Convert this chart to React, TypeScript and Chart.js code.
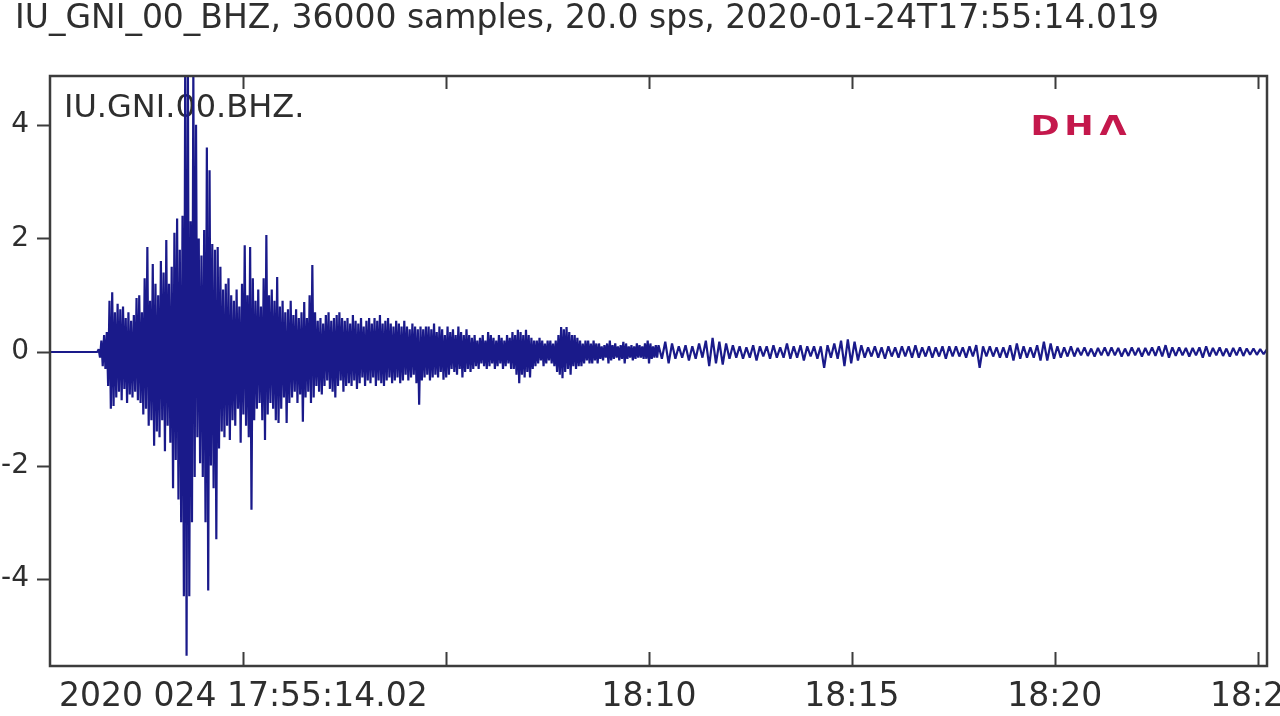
import React, { useEffect, useRef } from "react";
import { Chart, registerables } from "chart.js";

Chart.register(...registerables);

// ---------- data ----------
const TITLE = "IU_GNI_00_BHZ, 36000 samples, 20.0 sps, 2020-01-24T17:55:14.019";
const TRACE_LABEL = "IU.GNI.00.BHZ.";
const LOGO_LETTERS = ["D", "H", "Λ"];

const DURATION_S = 1800; // 36000 samples at 20 sps
const X_TICK_SECONDS = [285.98, 585.98, 885.98, 1185.98, 1485.98, 1785.98];
const X_TICK_LABELS = ["2020 024 17:55:14.02", "", "18:10", "18:15", "18:20", "18:25"];
const Y_TICKS = [-4, -2, 0, 2, 4];
const Y_MIN = -5.53;
const Y_MAX = 4.86;

// quiet part before the first arrival
const PRE_EVENT_TIMES = [0, 68];
const PRE_EVENT_VALUES = [0, 0];

// strong-motion part, read every 2 s from 70 s to 898 s
const MAIN_START_S = 70;
const MAIN_STEP_S = 2;
const MAIN_VALUES = [
  0, 0.05, -0.1, 0.2, -0.25, 0.3, -0.3, 0.35, -0.6, 0.9,
  -1.0, 1.05, -0.95, 0.7, -0.8, 0.85, -0.7, 0.75, -0.85, 0.8,
  -0.65, 0.6, -0.9, 0.7, -0.75, 0.55, -0.8, 0.65, -0.7, 0.95,
  -0.85, 1.0, -0.9, 0.7, -1.1, 1.3, -1.0, 1.85, -1.3, 0.9,
  -1.2, 1.55, -1.65, 1.2, -1.4, 1.0, -1.5, 1.6, -1.2, 1.4,
  -1.75, 1.97, -1.3, 1.2, -1.6, 1.5, -2.4, 2.1, -1.9, 2.35,
  -2.6, 1.8, -3.0, 2.4, -4.3, 5.3, -5.35, 4.9, -4.3, 2.3,
  -3.0, 5.0, -2.2, 4.0, -1.5, 2.0, -1.96, 1.7, -2.2, 2.15,
  -3.0, 3.6, -4.2, 3.2, -2.0, 1.9, -2.4, 1.8, -3.3, 1.85,
  -1.7, 1.5, -1.4, 1.1, -1.5, 1.2, -1.3, 1.3, -1.55, 1.0,
  -1.2, 0.9, -1.3, 1.1, -1.0, 0.8, -1.6, 1.2, -1.1, 1.88,
  -1.3, 1.0, -1.5, 1.85, -2.78, 1.3, -1.2, 0.9, -1.0, 1.1,
  -0.9, 0.8, -1.2, 1.3, -1.55, 2.06, -1.1, 1.0, -0.9, 1.1,
  -1.0, 0.9, -1.2, 1.32, -1.25, 0.8, -1.0, 0.9, -0.8, 0.7,
  -1.25, 0.75, -0.9, 0.9, -0.8, 0.65, -0.7, 0.75, -0.9, 0.6,
  -0.75, 0.7, -1.23, 0.88, -0.8, 0.6, -0.7, 1.0, -0.9, 1.53,
  -0.8, 0.7, -0.6, 0.55, -0.7, 0.6, -0.75, 0.5, -0.6, 0.65,
  -0.5, 0.7, -0.65, 0.55, -0.7, 0.6, -0.8, 0.65, -0.6, 0.7,
  -0.5, 0.6, -0.7, 0.55, -0.6, 0.6, -0.55, 0.5, -0.6, 0.65,
  -0.5, 0.55, -0.65, 0.5, -0.55, 0.6, -0.45, 0.45, -0.6, 0.55,
  -0.5, 0.6, -0.55, 0.5, -0.45, 0.6, -0.6, 0.55, -0.5, 0.65,
  -0.55, 0.5, -0.6, 0.55, -0.5, 0.6, -0.45, 0.5, -0.55, 0.45,
  -0.5, 0.55, -0.45, 0.5, -0.55, 0.45, -0.5, 0.55, -0.4, 0.45,
  -0.5, 0.4, -0.45, 0.5, -0.4, 0.45, -0.55, 0.4, -0.93, 0.45,
  -0.5, 0.4, -0.45, 0.45, -0.4,
  0.45, -0.5, 0.4, -0.45, 0.5, -0.4, 0.35, -0.45, 0.45, -0.35,
  0.4, -0.49, 0.3, -0.45, 0.45, -0.4, 0.35, -0.3, 0.4, -0.35,
  0.3, -0.4, 0.45, -0.3, 0.35, -0.45, 0.3, -0.35, 0.4, -0.3,
  0.3, -0.35, 0.25, -0.3, 0.3, -0.25, 0.2, -0.3, 0.25, -0.2,
  0.3, -0.25, 0.2, -0.3, 0.35, -0.25, 0.3, -0.2, 0.25, -0.3,
  0.2, -0.25, 0.3, -0.2, 0.25, -0.3, 0.2, -0.25, 0.3, -0.2,
  0.25, -0.3, 0.35, -0.3, 0.3, -0.4, 0.39, -0.55, 0.35, -0.4,
  0.3, -0.45, 0.39, -0.35, 0.3, -0.45, 0.25, -0.3, 0.2, -0.25,
  0.2, -0.2, 0.25, -0.15, 0.2, -0.25, 0.15, -0.2, 0.2, -0.15,
  0.2, -0.2, 0.15, -0.25, 0.2, -0.35, 0.3, -0.4, 0.44, -0.46,
  0.4, -0.35, 0.44, -0.3, 0.35, -0.4, 0.3, -0.25, 0.3, -0.3,
  0.25, -0.25, 0.2, -0.25, 0.15, -0.2, 0.2, -0.15, 0.2, -0.2,
  0.15, -0.2, 0.2, -0.15, 0.15, -0.2, 0.15, -0.12, 0.1, -0.15,
  0.12, -0.1, 0.15, -0.2, 0.2, -0.15, 0.12, -0.12, 0.15, -0.1,
  0.1, -0.15, 0.12, -0.12, 0.18, -0.2, 0.15, -0.12, 0.1, -0.1,
  0.12, -0.15, 0.1, -0.12, 0.15, -0.1, 0.12, -0.1, 0.1, -0.12,
  0.15, -0.12, 0.2, -0.2, 0.15, -0.12, 0.1, -0.1, 0.12, -0.1,
];

// coda, read every 5 s from 900 s
const CODA_START_S = 900;
const CODA_STEP_S = 5;
const CODA_VALUES = [
  0.12, -0.12, 0.18, -0.2, 0.15, -0.12, 0.1, -0.1, 0.12, -0.15, 0.1, -0.12, 0.15, -0.1,
  0.2, -0.25, 0.25, -0.2, 0.18, -0.22, 0.15, -0.12,
  0.12, -0.1, 0.1, -0.12, 0.08, -0.1, 0.12, -0.15, 0.1, -0.08,
  0.1, -0.12, 0.12, -0.1, 0.08, -0.1, 0.15, -0.12, 0.1, -0.1,
  0.12, -0.15, 0.1, -0.08, 0.1, -0.12, 0.1, -0.28, 0.12, -0.1,
  0.15, -0.12, 0.2, -0.25, 0.22,
  -0.2, 0.18, -0.15, 0.12, -0.1, 0.08, -0.08, 0.1, -0.1, 0.08,
  -0.12, 0.1, -0.08, 0.08, -0.1, 0.1, -0.08, 0.1, -0.1, 0.12,
  -0.1, 0.08, -0.08, 0.1, -0.1, 0.08, -0.08, 0.1, -0.12, 0.1,
  -0.08, 0.1, -0.08, 0.08, -0.1, 0.1, -0.08, 0.12, -0.28, 0.1,
  -0.08, 0.1, -0.08, 0.08, -0.1, 0.08,
  -0.1, 0.12, -0.15, 0.15, -0.12, 0.1, -0.1, 0.08, -0.1, 0.12,
  -0.15, 0.18, -0.15, 0.15, -0.12, 0.1, -0.1, 0.08, -0.08, 0.1,
  -0.08, 0.07, -0.06, 0.08, -0.07, 0.06, -0.08, 0.07, -0.06, 0.08,
  -0.07, 0.08, -0.06, 0.07, -0.08, 0.06, -0.07, 0.08, -0.06, 0.07,
  -0.08, 0.07, -0.06, 0.08, -0.07, 0.1, -0.08, 0.12, -0.1, 0.08,
  -0.07, 0.08, -0.06, 0.07, -0.08, 0.07, -0.06, 0.08, -0.1, 0.1,
  -0.08, 0.07, -0.06, 0.08, -0.07, 0.06, -0.08, 0.07, -0.06, 0.08,
  -0.07, 0.06, -0.05, 0.06, -0.05, 0.05, -0.04, 0.05,
];

// ---------- layout / style ----------
const CANVAS_W = 1320;
const CANVAS_H = 716;
const PLOT_LEFT = 50;
const PLOT_RIGHT = 1267;
const PLOT_TOP = 76;
const PLOT_BOTTOM = 666;
const FONT = '"DejaVu Sans", "Liberation Sans", sans-serif';
const TEXT_COLOR = "#2e2e2e";
const FRAME_COLOR = "#3c3c3c";
const TRACE_COLOR = "rgb(26,26,138)";
const LOGO_COLOR = "#c4184c";

function buildPoints() {
  const pts: { x: number; y: number }[] = [];
  PRE_EVENT_TIMES.forEach((t, i) => pts.push({ x: t, y: PRE_EVENT_VALUES[i] }));
  MAIN_VALUES.forEach((v, i) => pts.push({ x: MAIN_START_S + i * MAIN_STEP_S, y: v }));
  CODA_VALUES.forEach((v, i) => pts.push({ x: CODA_START_S + i * CODA_STEP_S, y: v }));
  return pts;
}

const decorPlugin = {
  id: "seismoDecor",
  beforeDraw(chart: any) {
    const ctx = chart.ctx;
    ctx.save();
    ctx.fillStyle = "#ffffff";
    ctx.fillRect(0, 0, chart.width, chart.height);
    ctx.fillStyle = TEXT_COLOR;
    ctx.font = `33px ${FONT}`;
    ctx.textAlign = "left";
    ctx.textBaseline = "alphabetic";
    ctx.fillText(TITLE, 15, 28);
    ctx.restore();
  },
  beforeDatasetsDraw(chart: any) {
    const ctx = chart.ctx;
    const a = chart.chartArea;
    ctx.save();
    ctx.fillStyle = TEXT_COLOR;
    ctx.font = `32px ${FONT}`;
    ctx.textAlign = "left";
    ctx.textBaseline = "alphabetic";
    ctx.fillText(TRACE_LABEL, a.left + 14, a.top + 41);
    // logo
    ctx.fillStyle = LOGO_COLOR;
    ctx.font = `bold 26px ${FONT}`;
    ctx.textAlign = "center";
    const logoX = [1045, 1079, 1113];
    LOGO_LETTERS.forEach((ch, i) => {
      ctx.save();
      ctx.translate(logoX[i], a.top + 59);
      ctx.scale(1.35, 1);
      ctx.fillText(ch, 0, 0);
      ctx.restore();
    });
    ctx.restore();
  },
  afterDraw(chart: any) {
    const ctx = chart.ctx;
    const a = chart.chartArea;
    const xs = chart.scales.x;
    const ys = chart.scales.y;
    ctx.save();
    ctx.strokeStyle = FRAME_COLOR;
    ctx.lineWidth = 2.5;
    ctx.strokeRect(a.left, a.top, a.right - a.left, a.bottom - a.top);
    ctx.lineWidth = 2;
    ctx.beginPath();
    X_TICK_SECONDS.forEach((t) => {
      const px = Math.round(xs.getPixelForValue(t)) + 0.5;
      ctx.moveTo(px, a.bottom);
      ctx.lineTo(px, a.bottom - 14);
      ctx.moveTo(px, a.top);
      ctx.lineTo(px, a.top + 13);
    });
    Y_TICKS.forEach((v) => {
      const py = Math.round(ys.getPixelForValue(v)) + 0.5;
      ctx.moveTo(a.left, py);
      ctx.lineTo(a.left - 13, py);
    });
    ctx.stroke();
    ctx.restore();
  },
};

export default function App() {
  const canvasRef = useRef<HTMLCanvasElement | null>(null);

  useEffect(() => {
    const canvas = canvasRef.current;
    if (!canvas) return;
    const chart = new Chart(canvas, {
      type: "line",
      data: {
        datasets: [
          {
            data: buildPoints(),
            borderColor: TRACE_COLOR,
            borderWidth: 2.2,
            borderJoinStyle: "bevel",
            pointRadius: 0,
            tension: 0,
            fill: false,
            clip: 0,
          } as any,
        ],
      },
      options: {
        animation: false,
        responsive: false,
        devicePixelRatio: 1,
        parsing: false,
        normalized: true,
        events: [],
        layout: {
          padding: { left: 0, top: PLOT_TOP, right: CANVAS_W - PLOT_RIGHT, bottom: 0 },
        },
        plugins: {
          legend: { display: false },
          tooltip: { enabled: false },
          title: { display: false },
        },
        scales: {
          x: {
            type: "linear",
            min: 0,
            max: DURATION_S,
            grid: { display: false, drawTicks: false },
            border: { display: false },
            afterBuildTicks: (s: any) => {
              s.ticks = X_TICK_SECONDS.map((v) => ({ value: v }));
            },
            afterFit: (s: any) => {
              s.height = CANVAS_H - PLOT_BOTTOM;
            },
            ticks: {
              autoSkip: false,
              maxRotation: 0,
              minRotation: 0,
              padding: 12,
              color: TEXT_COLOR,
              font: { family: FONT, size: 33 },
              callback: (value: any) => {
                const idx = X_TICK_SECONDS.findIndex((t) => Math.abs(t - Number(value)) < 0.01);
                return idx >= 0 ? X_TICK_LABELS[idx] : "";
              },
            },
          },
          y: {
            type: "linear",
            min: Y_MIN,
            max: Y_MAX,
            grid: { display: false, drawTicks: false },
            border: { display: false },
            afterBuildTicks: (s: any) => {
              s.ticks = Y_TICKS.map((v) => ({ value: v }));
            },
            afterFit: (s: any) => {
              s.width = PLOT_LEFT;
            },
            ticks: {
              padding: 21,
              color: TEXT_COLOR,
              font: { family: FONT, size: 28 },
              callback: (value: any) => String(value),
            },
          },
        },
      },
      plugins: [decorPlugin],
    });
    return () => chart.destroy();
  }, []);

  return (
    <div
      style={{
        position: "fixed",
        left: 0,
        top: 0,
        width: 1280,
        height: 716,
        overflow: "hidden",
        background: "#ffffff",
      }}
    >
      <canvas
        ref={canvasRef}
        width={CANVAS_W}
        height={CANVAS_H}
        style={{ display: "block", width: CANVAS_W, height: CANVAS_H }}
      />
    </div>
  );
}
